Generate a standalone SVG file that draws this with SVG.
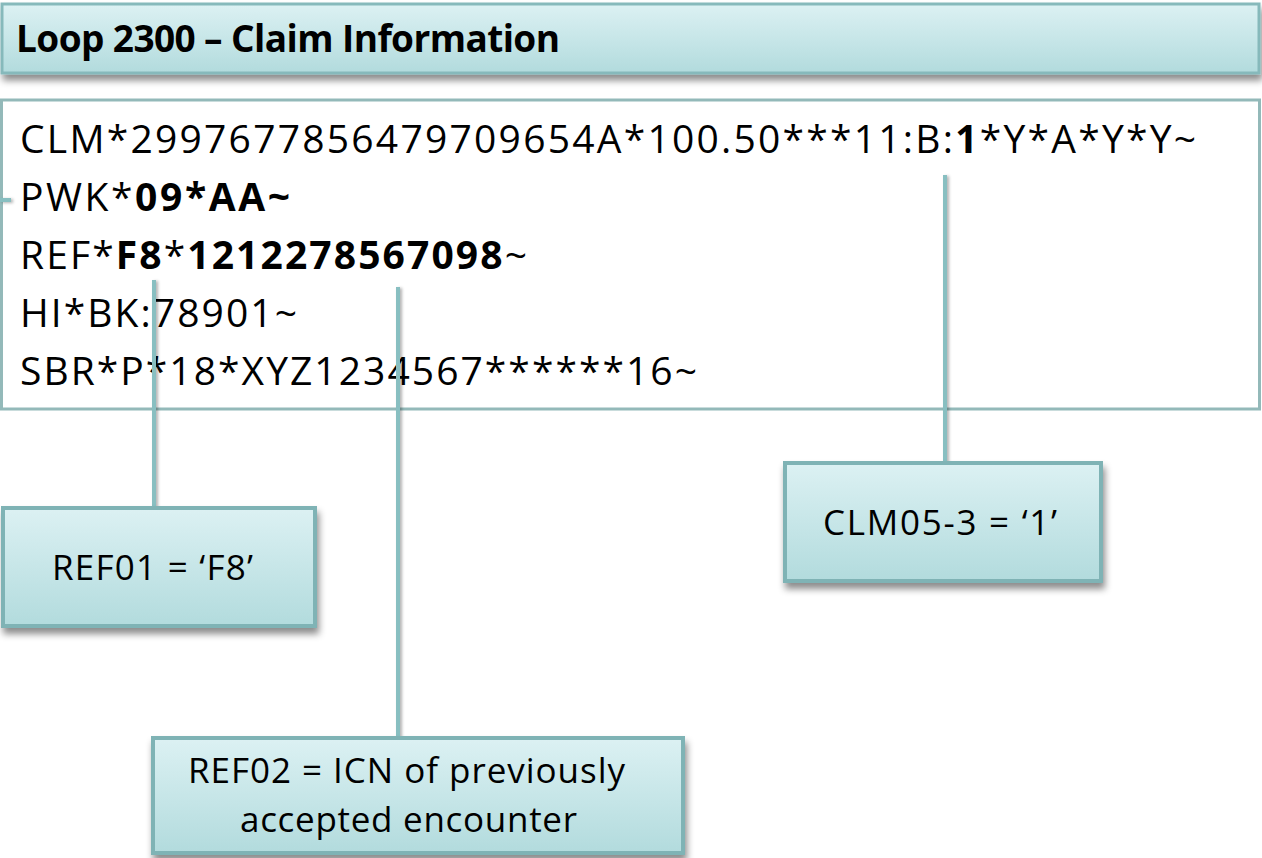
<svg xmlns="http://www.w3.org/2000/svg" width="1262" height="858" viewBox="0 0 1262 858">
  <defs>
    <linearGradient id="tealFill" x1="0" y1="0" x2="0" y2="1">
      <stop offset="0" stop-color="#dcf1f3"/>
      <stop offset="1" stop-color="#b2dbdd"/>
    </linearGradient>
    <filter id="dropShadow" x="-5%" y="-10%" width="112%" height="135%">
      <feDropShadow dx="2" dy="6" stdDeviation="3.5" flood-color="#000" flood-opacity="0.45"/>
    </filter>
    <filter id="lineShadow" x="-200%" y="-5%" width="500%" height="110%">
      <feDropShadow dx="2" dy="1" stdDeviation="1.5" flood-color="#000" flood-opacity="0.3"/>
    </filter>
  </defs>
  <style>
    .banner { fill: url(#tealFill); stroke: #86b9bb; stroke-width: 3; }
    .callout { fill: url(#tealFill); stroke: #7fb3b5; stroke-width: 4; }
    .panel { fill: #ffffff; stroke: #93b9b9; stroke-width: 3; }
    .conn { stroke: #88bfc1; stroke-width: 4; fill: none; }
    .title { font-family: "Open Sans", "Liberation Sans", sans-serif; font-weight: bold; font-size: 37px; fill: #000; }
    .seg { font-family: "Open Sans", "Liberation Sans", sans-serif; font-size: 39px; fill: #000; }
    .seg .b { font-weight: bold; }
    .lbl { font-family: "Open Sans", "Liberation Sans", sans-serif; font-size: 35px; fill: #000; }
  </style>

  <rect width="1262" height="858" fill="#ffffff"/>

  <!-- Loop heading -->
  <g id="loop-heading">
    <rect class="banner" x="2" y="4" width="1257" height="69" filter="url(#dropShadow)"/>
    <text class="title" x="16" y="52" textLength="544">Loop 2300 – Claim Information</text>
  </g>

  <!-- Segment listing -->
  <g id="segments">
    <rect class="panel" x="1.5" y="100" width="1258" height="309"/>
    <text class="seg" x="20" y="153" textLength="1176">CLM*2997677856479709654A*100.50***11:B:<tspan class="b">1</tspan>*Y*A*Y*Y~</text>
    <text class="seg" x="20" y="211" textLength="270">PWK*<tspan class="b">09*AA~</tspan></text>
    <text class="seg" x="20" y="269" textLength="507">REF*<tspan class="b">F8</tspan>*<tspan class="b">1212278567098</tspan>~</text>
    <text class="seg" x="20" y="327" textLength="277">HI*BK:78901~</text>
    <text class="seg" x="20" y="385" textLength="677">SBR*P*18*XYZ1234567******16~</text>
  </g>

  <!-- Connectors from segment elements to callouts -->
  <g id="connectors" filter="url(#lineShadow)">
    <line class="conn" x1="0" y1="200" x2="11" y2="200"/>
    <line class="conn" x1="154" y1="280" x2="154" y2="508"/>
    <line class="conn" x1="398" y1="287" x2="398" y2="738"/>
    <line class="conn" x1="945" y1="175" x2="945" y2="463"/>
  </g>

  <!-- Callouts -->
  <g id="callout-ref01">
    <rect class="callout" x="3" y="508" width="312" height="118" filter="url(#dropShadow)"/>
    <text class="lbl" x="52" y="580" textLength="201">REF01 = ‘F8’</text>
  </g>

  <g id="callout-clm05-3">
    <rect class="callout" x="785" y="463" width="316" height="118" filter="url(#dropShadow)"/>
    <text class="lbl" x="823" y="535" textLength="234">CLM05-3 = ‘1’</text>
  </g>

  <g id="callout-ref02">
    <rect class="callout" x="153" y="738" width="530" height="115" filter="url(#dropShadow)"/>
    <text class="lbl" x="188" y="783" textLength="437">REF02 = ICN of previously</text>
    <text class="lbl" x="240" y="832" textLength="337">accepted encounter</text>
  </g>
</svg>
